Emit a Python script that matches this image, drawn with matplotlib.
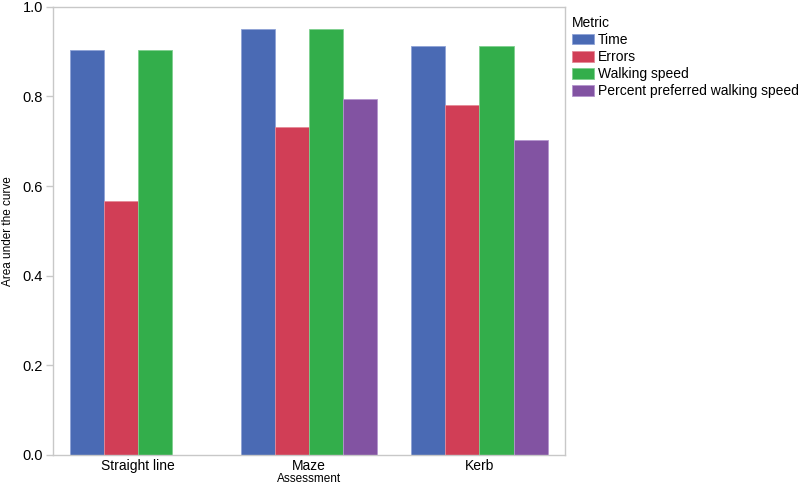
import numpy as np
import matplotlib
matplotlib.use("Agg")
import matplotlib.pyplot as plt

plt.rcParams['font.family'] = ['Liberation Sans', 'DejaVu Sans']

# Data
assessments = ["Straight line", "Maze", "Kerb"]
metrics = ["Time", "Errors", "Walking speed", "Percent preferred walking speed"]
time_auc = [0.903, 0.951, 0.912]
errors_auc = [0.567, 0.732, 0.781]
speed_auc = [0.903, 0.951, 0.912]
pct_speed_auc = [np.nan, 0.795, 0.703]

colors = ["#4A6AB4", "#D13E56", "#33AE4B", "#8253A2"]
edges = ["#8FA3D6", "#E58A98", "#7FD08F", "#B595CE"]

fig = plt.figure(figsize=(8, 4.84), dpi=100)
ax = fig.add_axes([0.066, 0.06, 0.64, 0.926])

x = np.arange(len(assessments))
width = 0.2
series = [time_auc, errors_auc, speed_auc, pct_speed_auc]
for i, (vals, name) in enumerate(zip(series, metrics)):
    offs = (i - 1.5) * width
    ax.bar(x + offs, vals, width, color=colors[i], edgecolor=edges[i],
           linewidth=0.6, label=name)

ax.set_xlim(-0.5, 2.5)
ax.set_ylim(0, 1.0)
ax.set_yticks([0, 0.2, 0.4, 0.6, 0.8, 1.0])
ax.set_yticklabels(["0.0", "0.2", "0.4", "0.6", "0.8", "1.0"])
ax.set_xticks(x)
ax.set_xticklabels(assessments)

for s in ax.spines.values():
    s.set_color("#C8C8C8")
    s.set_linewidth(1.0)
ax.tick_params(axis='y', colors="#C8C8C8", labelcolor="black", length=5,
               width=1.0, labelsize=10.5, pad=2)
ax.tick_params(axis='x', length=0, labelsize=10, pad=3)

ax.set_ylabel("Area under the curve", fontsize=8.5, labelpad=6)
ax.set_xlabel("Assessment", fontsize=8.5, labelpad=0)

leg = ax.legend(loc="upper left", bbox_to_anchor=(1.003, 0.992), frameon=False,
                title="Metric", alignment="left", fontsize=10,
                title_fontsize=10, handlelength=1.6, handleheight=0.8,
                handletextpad=0.25, labelspacing=0.22, borderaxespad=0.2,
                borderpad=0.2)

fig.savefig("out.png", dpi=100)
